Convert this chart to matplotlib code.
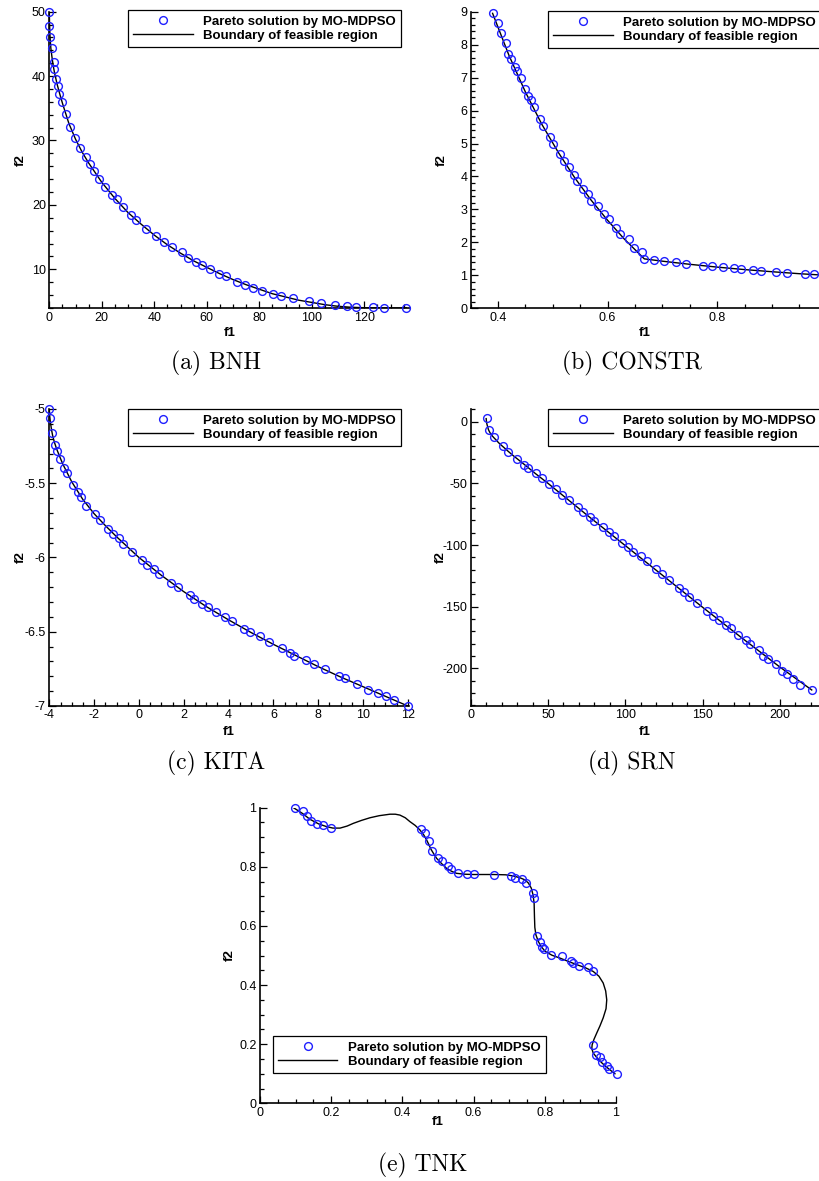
import matplotlib
matplotlib.use("Agg")
import matplotlib.pyplot as plt
from matplotlib.ticker import MultipleLocator, FuncFormatter

W, H = 819, 1181

# ---- BNH
bnh_f1 = [0, 0, 0.25, 0.9, 1.8, 1.9, 2.4, 3.4, 3.8, 5.0, 6.3, 7.9, 9.8, 11.7, 13.8, 15.6,
          17.0, 18.9, 21.2, 24.0, 25.9, 27.9, 31.0, 33.1, 36.7, 40.5, 43.8, 46.9, 50.4,
          52.7, 55.7, 58.0, 61.1, 64.8, 67.2, 71.6, 74.5, 77.7, 80.9, 85.1, 88.3, 92.7,
          99.0, 103.5, 108.8, 113.3, 116.8, 123.2, 127.6, 135.9]
bnh_f2 = [50, 47.8, 46.1, 44.3, 42.2, 41.1, 39.6, 38.4, 37.2, 35.9, 34.1, 32.1, 30.4, 28.9,
          27.4, 26.3, 25.2, 24.0, 22.8, 21.6, 20.9, 19.6, 18.4, 17.7, 16.3, 15.2, 14.3,
          13.4, 12.7, 11.8, 11.1, 10.6, 10.0, 9.3, 8.9, 8.0, 7.6, 7.1, 6.6, 6.2, 5.9, 5.5,
          5.1, 4.8, 4.5, 4.3, 4.2, 4.1, 4.0, 4.0]
bnh_line_f1 = [0, 0.1, 0.3, 0.6, 1, 1.5, 2, 3, 4, 5, 6, 7.5, 10, 12.5, 15, 20, 25, 30, 35, 40,
               45, 50, 55, 60, 65, 70, 75, 80, 85, 90, 95, 100, 105, 110, 115, 120, 125, 136]
bnh_line_f2 = [50, 48, 46, 44.3, 43, 41.6, 40.5, 38.7, 37.2, 35.8, 34.5, 32.6, 30.2, 28.2,
               26.5, 23.5, 21, 18.8, 17, 15.3, 13.8, 12.5, 11.3, 10.3, 9.3, 8.4, 7.6, 6.9,
               6.2, 5.7, 5.2, 4.85, 4.5, 4.25, 4.1, 4.03, 4.0, 4.0]

# ---- CONSTR
constr_f1 = [0.391, 0.399, 0.405, 0.414, 0.419, 0.423, 0.431, 0.435, 0.442, 0.449, 0.454,
             0.460, 0.466, 0.477, 0.482, 0.494, 0.501, 0.513, 0.521, 0.530, 0.538, 0.545,
             0.555, 0.564, 0.570, 0.582, 0.594, 0.603, 0.615, 0.622, 0.639, 0.649, 0.662,
             0.667, 0.684, 0.703, 0.724, 0.743, 0.774, 0.790, 0.810, 0.831, 0.844, 0.865,
             0.880, 0.907, 0.927, 0.960, 0.977]
constr_f2 = [8.95, 8.66, 8.36, 8.04, 7.73, 7.56, 7.33, 7.20, 7.00, 6.64, 6.45, 6.32, 6.10,
             5.74, 5.53, 5.21, 4.98, 4.68, 4.48, 4.28, 4.06, 3.86, 3.61, 3.47, 3.26, 3.11,
             2.86, 2.71, 2.43, 2.25, 2.10, 1.84, 1.71, 1.50, 1.47, 1.44, 1.39, 1.34, 1.29,
             1.27, 1.24, 1.21, 1.19, 1.16, 1.14, 1.11, 1.08, 1.04, 1.03]
constr_line_f1 = [0.39, 0.42, 0.45, 0.48, 0.51, 0.54, 0.57, 0.60, 0.63, 0.667, 0.70, 0.75,
                  0.80, 0.85, 0.90, 0.95, 0.99]
constr_line_f2 = [8.95, 7.67, 6.56, 5.58, 4.73, 3.96, 3.28, 2.67, 2.11, 1.50, 1.43, 1.335,
                  1.25, 1.175, 1.11, 1.05, 1.01]

# ---- KITA
kita_f1 = [-4.0, -3.97, -3.90, -3.75, -3.67, -3.52, -3.34, -3.22, -2.95, -2.74, -2.59, -2.36,
           -1.95, -1.73, -1.38, -1.17, -0.91, -0.69, -0.31, 0.13, 0.36, 0.69, 0.91, 1.41,
           1.75, 2.28, 2.46, 2.80, 3.06, 3.46, 3.85, 4.13, 4.70, 4.97, 5.40, 5.79, 6.37,
           6.72, 6.94, 7.44, 7.81, 8.29, 8.91, 9.18, 9.75, 10.23, 10.65, 11.02, 11.38, 12.02]
kita_f2 = [-5.0, -5.06, -5.16, -5.24, -5.28, -5.34, -5.40, -5.43, -5.51, -5.56, -5.59, -5.65,
           -5.71, -5.75, -5.81, -5.84, -5.87, -5.91, -5.96, -6.02, -6.05, -6.08, -6.11, -6.17,
           -6.20, -6.25, -6.28, -6.31, -6.33, -6.37, -6.40, -6.43, -6.48, -6.50, -6.53, -6.57,
           -6.61, -6.64, -6.66, -6.69, -6.72, -6.75, -6.80, -6.81, -6.85, -6.89, -6.91, -6.93,
           -6.96, -7.0]
kita_line_f1 = [-4, -3.98, -3.95, -3.9, -3.85, -3.77, -3.67, -3.55, -3.4, -3.2, -3.0, -2.5,
                -2.0, -1.5, -1.0, -0.5, 0, 1, 2, 3, 4, 5, 6, 7, 8, 9, 10, 11, 12]
kita_line_f2 = [-5.0, -5.05, -5.09, -5.14, -5.18, -5.225, -5.27, -5.315, -5.37, -5.43, -5.49,
                -5.61, -5.705, -5.785, -5.86, -5.93, -6.0, -6.12, -6.23, -6.33, -6.42, -6.505,
                -6.585, -6.66, -6.735, -6.805, -6.87, -6.935, -7.0]

# ---- SRN
srn_f1 = [10.3, 11.9, 15.3, 21.1, 24.4, 29.7, 34.5, 37.3, 42.2, 46.3, 50.6, 55.0, 59.3, 63.6,
          69.2, 72.8, 77.2, 80.0, 85.8, 89.4, 92.7, 98.1, 101.5, 104.7, 110.1, 113.8, 119.6,
          123.5, 128.2, 134.7, 138.1, 141.4, 146.6, 152.6, 156.9, 160.8, 165.1, 168.1, 173.1,
          178.0, 180.6, 186.6, 189.2, 192.5, 197.2, 201.5, 204.3, 208.6, 212.9, 220.5]
srn_f2 = [3.2, -6.8, -12.2, -19.5, -24.9, -30.3, -35.1, -37.8, -41.9, -45.9, -50.8, -54.6,
          -59.5, -63.5, -68.9, -73.0, -77.0, -80.5, -85.7, -89.2, -92.4, -98.1, -101.4, -105.4,
          -108.6, -113.0, -119.5, -123.5, -128.4, -134.6, -137.8, -141.9, -146.8, -153.2,
          -157.3, -160.8, -164.9, -167.6, -173.0, -177.0, -180.3, -185.1, -189.7, -192.7,
          -196.8, -201.9, -204.6, -208.9, -213.5, -217.6]
srn_line_f1 = [10.0, 10.2, 10.5, 11.0, 11.5, 12.2, 13, 14, 15, 16.5, 18, 20, 22, 24.5, 27, 31,
               35, 42, 50, 75, 100, 125, 150, 175, 200, 220.5]
srn_line_f2 = [2.5, 0, -2, -4.3, -6.5, -8.3, -10, -11.6, -13, -14.9, -17, -19.3, -21.5, -24.3,
               -27, -31, -35, -42.2, -50, -75.5, -100.5, -125.5, -150.5, -175, -199, -217.5]

# ---- TNK
tnk_f1 = [0.098, 0.122, 0.131, 0.144, 0.161, 0.176, 0.199, 0.451, 0.463, 0.476, 0.482, 0.501,
          0.512, 0.527, 0.536, 0.555, 0.581, 0.602, 0.657, 0.705, 0.716, 0.735, 0.747, 0.768,
          0.770, 0.779, 0.787, 0.793, 0.799, 0.817, 0.847, 0.874, 0.880, 0.897, 0.921, 0.934,
          0.934, 0.943, 0.955, 0.962, 0.974, 0.980, 1.002]
tnk_f2 = [0.998, 0.989, 0.972, 0.956, 0.945, 0.941, 0.930, 0.928, 0.914, 0.889, 0.855, 0.829,
          0.820, 0.803, 0.791, 0.780, 0.777, 0.776, 0.774, 0.769, 0.761, 0.759, 0.744, 0.710,
          0.693, 0.567, 0.547, 0.530, 0.521, 0.502, 0.498, 0.481, 0.474, 0.466, 0.460, 0.449,
          0.198, 0.165, 0.157, 0.139, 0.125, 0.116, 0.100]
tnk_line_f1 = [0.094, 0.12, 0.14, 0.165, 0.187, 0.205, 0.225, 0.245, 0.262, 0.285, 0.309,
               0.335, 0.365, 0.38, 0.393, 0.408, 0.421, 0.436, 0.449, 0.460, 0.468, 0.474,
               0.480, 0.488, 0.496, 0.51, 0.524, 0.538, 0.552, 0.575, 0.599, 0.655, 0.69,
               0.712, 0.73, 0.744, 0.754, 0.762, 0.767, 0.770, 0.771, 0.772, 0.775, 0.782,
               0.79, 0.801, 0.82, 0.843, 0.866, 0.89, 0.915, 0.936, 0.952, 0.964, 0.971,
               0.974, 0.972, 0.964, 0.955, 0.946, 0.938, 0.933, 0.932, 0.936, 0.946, 0.960,
               0.978, 0.997]
tnk_line_f2 = [1.0, 0.98, 0.961, 0.945, 0.936, 0.931, 0.931, 0.938, 0.947, 0.957, 0.966,
               0.973, 0.978, 0.978, 0.975, 0.966, 0.953, 0.940, 0.925, 0.908, 0.891, 0.876,
               0.860, 0.844, 0.829, 0.811, 0.795, 0.785, 0.778, 0.775, 0.774, 0.774, 0.773,
               0.769, 0.763, 0.756, 0.745, 0.728, 0.705, 0.677, 0.63, 0.595, 0.57, 0.547,
               0.53, 0.514, 0.501, 0.491, 0.48, 0.469, 0.458, 0.446, 0.43, 0.407, 0.38, 0.350,
               0.32, 0.289, 0.262, 0.238, 0.216, 0.198, 0.185, 0.170, 0.155, 0.137, 0.118,
               0.100]

captions = ["(a) BNH", "(b) CONSTR", "(c) KITA", "(d) SRN", "(e) TNK"]

plt.rcParams["font.family"] = ["Liberation Sans", "DejaVu Sans"]
plt.rcParams["axes.unicode_minus"] = False

panels = [
    # box(l, t, r, b) px, limits, tick steps, label/legend/caption positions in px
    dict(s=(bnh_f1, bnh_f2), l=(bnh_line_f1, bnh_line_f2), box=(49.3, 11.7, 410, 308.3),
         xlim=(0, 137.4), ylim=(3.94, 50), xt=(20, 5), yt=(10, 2),
         xlab=333, ylab=21, leg=(128, 10), cap=(216, 363)),
    dict(s=(constr_f1, constr_f2), l=(constr_line_f1, constr_line_f2), box=(470.7, 11.7, 819, 308.3),
         xlim=(0.35, 0.986), ylim=(0, 9), xt=(0.2, 0.05), yt=(1, 0.2),
         xlab=333, ylab=442, leg=(548, 11), cap=(632, 363)),
    dict(s=(kita_f1, kita_f2), l=(kita_line_f1, kita_line_f2), box=(49.3, 409, 409, 706),
         xlim=(-4, 12.05), ylim=(-7, -5), xt=(2, 0.5), yt=(0.5, 0.1),
         xlab=732, ylab=21, leg=(128, 409), cap=(216, 763)),
    dict(s=(srn_f1, srn_f2), l=(srn_line_f1, srn_line_f2), box=(470.7, 409, 819, 706),
         xlim=(0, 225.2), ylim=(-230.5, 10.3), xt=(50, 10), yt=(50, 10),
         xlab=732, ylab=441, leg=(548, 409), cap=(632, 763)),
    dict(s=(tnk_f1, tnk_f2), l=(tnk_line_f1, tnk_line_f2), box=(260, 807.7, 616, 1103.3),
         xlim=(0, 1), ylim=(0, 1), xt=(0.2, 0.05), yt=(0.2, 0.05),
         xlab=1121.7, ylab=230, leg=(272.7, 1036), cap=(423, 1165)),
]

fig = plt.figure(figsize=(W / 100, H / 100), dpi=100)
fmt = FuncFormatter(lambda v, p: "%g" % round(v, 6))

for p, cap in zip(panels, captions):
    l, t, r, b = p["box"]
    ax = fig.add_axes([l / W, 1 - b / H, (r - l) / W, (b - t) / H])
    ax.plot(p["l"][0], p["l"][1], color="black", lw=1.0, label="Boundary of feasible region",
            zorder=2)
    ax.plot(p["s"][0], p["s"][1], ls="none", marker="o", ms=5.6, mfc="none", mec="#1f1fff",
            mew=1.0, label="Pareto solution by MO-MDPSO", clip_on=False, zorder=3)
    ax.set_xlim(*p["xlim"])
    ax.set_ylim(*p["ylim"])
    ax.xaxis.set_major_locator(MultipleLocator(p["xt"][0]))
    ax.xaxis.set_minor_locator(MultipleLocator(p["xt"][1]))
    ax.yaxis.set_major_locator(MultipleLocator(p["yt"][0]))
    ax.yaxis.set_minor_locator(MultipleLocator(p["yt"][1]))
    ax.xaxis.set_major_formatter(fmt)
    ax.yaxis.set_major_formatter(fmt)
    for side in ("top", "right"):
        ax.spines[side].set_visible(False)
    for side in ("left", "bottom"):
        ax.spines[side].set_linewidth(1.2)
    ax.tick_params(which="both", direction="in", width=0.9, labelsize=9, pad=2.5,
                   colors="black")
    ax.tick_params(which="major", length=4.8)
    ax.tick_params(which="minor", length=2.9)
    ax.patch.set_alpha(0)

    ax.set_xlabel("f1", fontsize=9.5, fontweight="bold")
    ax.set_ylabel("f2", fontsize=9.5, fontweight="bold")
    ax.xaxis.set_label_coords(0.5, -(p["xlab"] - b) / (b - t))
    ax.yaxis.set_label_coords(-(l - p["ylab"]) / (r - l), 0.5)
    ax.xaxis.label.set_va("center")
    ax.yaxis.label.set_va("center")

    h, lab = ax.get_legend_handles_labels()
    leg = ax.legend(h[::-1], lab[::-1], loc="upper left",
                    bbox_to_anchor=(p["leg"][0] / W, 1 - p["leg"][1] / H),
                    bbox_transform=fig.transFigure, borderaxespad=0, fancybox=False,
                    framealpha=1, edgecolor="black", numpoints=1, handlelength=4.5,
                    handletextpad=0.8, borderpad=0.4, labelspacing=0.15,
                    prop=dict(family="Liberation Sans", weight="bold", size=9.5))
    leg.get_frame().set_linewidth(0.9)

    fig.text(p["cap"][0] / W, 1 - p["cap"][1] / H, cap, family="cmr10", fontsize=17,
             ha="center", va="center")

fig.savefig("out.png", dpi=100)
